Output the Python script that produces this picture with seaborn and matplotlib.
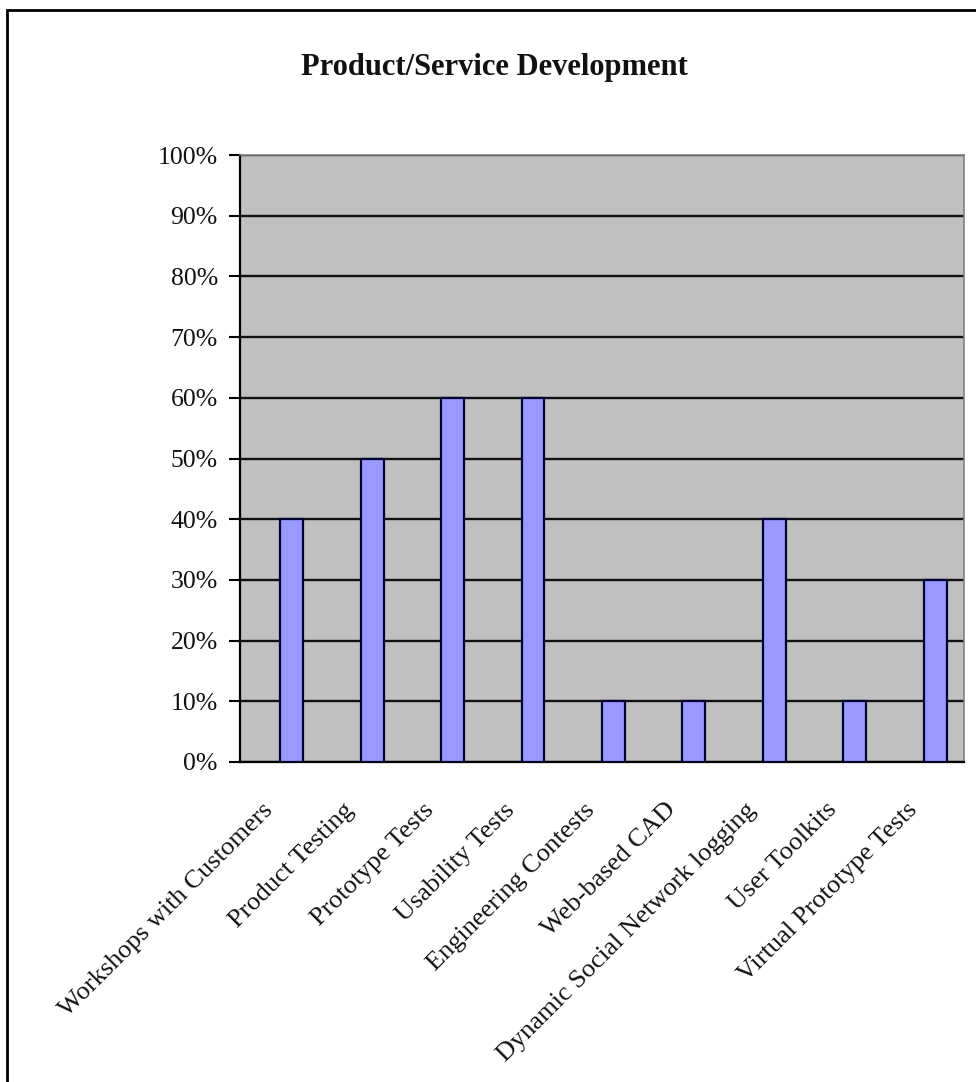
import matplotlib
matplotlib.use("Agg")
import matplotlib.pyplot as plt
import seaborn as sns
import pandas as pd
from matplotlib.ticker import PercentFormatter, FixedLocator
from matplotlib.patches import Rectangle
from matplotlib.transforms import ScaledTranslation

categories = ["Workshops with Customers", "Product Testing", "Prototype Tests",
              "Usability Tests", "Engineering Contests", "Web-based CAD",
              "Dynamic Social Network logging", "User Toolkits",
              "Virtual Prototype Tests"]
shares = [0.40, 0.50, 0.60, 0.60, 0.10, 0.10, 0.40, 0.10, 0.30]
series_levels = ["_empty", "Share"]
y_ticks = [0.0, 0.1, 0.2, 0.3, 0.4, 0.5, 0.6, 0.7, 0.8, 0.9, 1.0]
title = "Product/Service Development"

df = pd.DataFrame({"category": categories, "share": shares, "series": "Share"})

sns.set_style("white")
plt.rcParams["font.family"] = ["Liberation Serif", "DejaVu Serif"]

fig = plt.figure(figsize=(9.76, 10.82), dpi=100)
ax = fig.add_axes([240/976, 1 - 762/1082, (964-240)/976, (762-155)/1082])

sns.barplot(data=df, x="category", y="share", hue="series",
            hue_order=series_levels, order=categories,
            palette=["#9999FF", "#9999FF"], saturation=1, dodge=True,
            width=0.57, edgecolor="#000033", linewidth=1.6, legend=False,
            ax=ax, zorder=3)

ax.set_facecolor("#C0C0C0")
ax.set_ylim(0, 1)
ax.set_xlim(-0.5, len(categories) - 0.5)
ax.yaxis.set_major_locator(FixedLocator(y_ticks))
ax.yaxis.set_major_formatter(PercentFormatter(1.0, decimals=0))
ax.yaxis.grid(True, color="#111111", linewidth=1.7, zorder=1)
ax.set_axisbelow(True)

ax.set_xlabel("")
ax.set_ylabel("")

# category labels at centers, tick marks between categories
ax.set_xticks(range(len(categories)))
ax.set_xticklabels(categories, rotation=45, ha="right", rotation_mode="anchor",
                   fontsize=19, color="#111111")
ax.tick_params(axis="x", which="major", length=0, pad=20)
offset = ScaledTranslation(-18/100, -9/100, fig.dpi_scale_trans)
for lbl in ax.get_xticklabels():
    lbl.set_transform(lbl.get_transform() + offset)
ax.set_xticks([i - 0.5 for i in range(len(categories) + 1)], minor=True)
ax.tick_params(axis="x", which="minor", length=8, width=1.5, color="black",
               direction="out")
ax.tick_params(axis="y", length=8, width=1.5, color="black", direction="out",
               labelsize=18.5, labelcolor="#111111", pad=8, left=True)

for s in ["left", "bottom"]:
    ax.spines[s].set_color("black")
    ax.spines[s].set_linewidth(1.6)
for s in ["top", "right"]:
    ax.spines[s].set_color("#808080")
    ax.spines[s].set_linewidth(1.2)

fig.text(494/976, 1 - 67/1082, title, ha="center", va="center",
         fontsize=22, fontweight="bold", color="#111111")

fig.patches.append(Rectangle((7/976, -0.05), (980-7)/976, 1.05 - 10/1082,
                             transform=fig.transFigure, fill=False,
                             edgecolor="black", linewidth=2))

fig.savefig("out.png", dpi=100, facecolor="white")
